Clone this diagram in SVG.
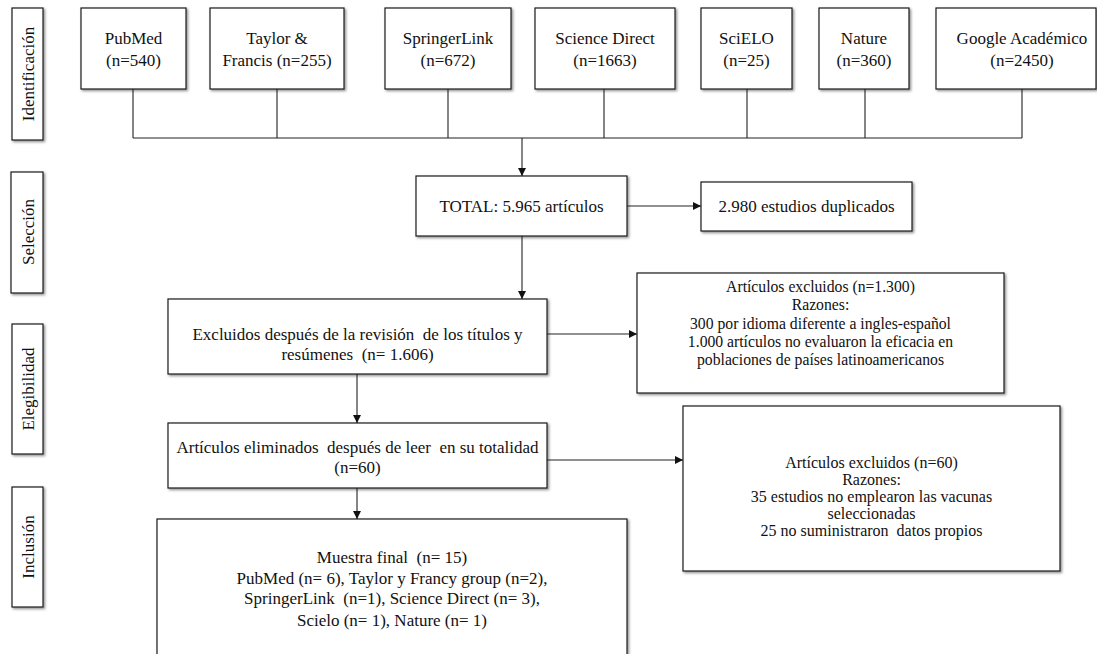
<svg xmlns="http://www.w3.org/2000/svg" width="1097" height="654" viewBox="0 0 1097 654">
<style>
.box{fill:#fff;stroke:#1a1a1a;stroke-width:1.2;filter:url(#sh)}
text{font-family:'Liberation Serif','Times New Roman','DejaVu Serif',serif}
.t{font-size:17px;fill:#111;text-anchor:middle}
.s{font-size:15.7px}
.m{font-size:16px}
.c{fill:none;stroke:#222;stroke-width:1.1}
.a{marker-end:url(#ah)}
</style>
<defs>
<filter id="sh" x="-10%" y="-10%" width="130%" height="130%">
<feDropShadow dx="1.5" dy="1.5" stdDeviation="0.8" flood-color="#444" flood-opacity="0.6"/>
</filter>
<marker id="ah" viewBox="0 0 10 10" refX="10" refY="5" markerWidth="8" markerHeight="8" markerUnits="userSpaceOnUse" orient="auto">
<path d="M0,0 L10,5 L0,10 z" fill="#111"/>
</marker>
</defs>
<g font-family="Liberation Serif, Times New Roman, serif">
<g id="stage-identificacion"><rect class="box" x="12" y="8" width="31" height="132"/><text class="t" x="34" y="74" transform="rotate(-90 34 74)">Identificación</text></g>
<g id="stage-seleccion"><rect class="box" x="11" y="172" width="32" height="121"/><text class="t" x="34" y="232" transform="rotate(-90 34 232)">Selección</text></g>
<g id="stage-elegibilidad"><rect class="box" x="12" y="324" width="31" height="130"/><text class="t" x="34" y="389" transform="rotate(-90 34 389)">Elegibilidad</text></g>
<g id="stage-inclusion"><rect class="box" x="12" y="487" width="31" height="120"/><text class="t" x="34" y="547" transform="rotate(-90 34 547)">Inclusión</text></g>

<g id="pubmed"><rect class="box" x="81" y="8" width="105" height="81"/><text class="t" x="133.5" y="44">PubMed</text><text class="t" x="133.5" y="66">(n=540)</text></g>
<g id="taylor"><rect class="box" x="210" y="8" width="134" height="81"/><text class="t" x="277" y="44">Taylor &amp;</text><text class="t" x="277" y="66">Francis (n=255)</text></g>
<g id="springer"><rect class="box" x="385" y="8" width="126" height="81"/><text class="t" x="448" y="44">SpringerLink</text><text class="t" x="448" y="66">(n=672)</text></g>
<g id="sciencedirect"><rect class="box" x="535" y="8" width="140" height="81"/><text class="t" x="605" y="44">Science Direct</text><text class="t" x="605" y="66">(n=1663)</text></g>
<g id="scielo"><rect class="box" x="701" y="8" width="91" height="81"/><text class="t" x="746.5" y="44">SciELO</text><text class="t" x="746.5" y="66">(n=25)</text></g>
<g id="nature"><rect class="box" x="819" y="8" width="90" height="81"/><text class="t" x="864" y="44">Nature</text><text class="t" x="864" y="66">(n=360)</text></g>
<g id="google"><rect class="box" x="936" y="8" width="160" height="81"/><text class="t" x="1022" y="44">Google Académico</text><text class="t" x="1022" y="66">(n=2450)</text></g>

<g id="total"><rect class="box" x="416" y="176" width="211" height="60"/><text class="t" x="521.5" y="212">TOTAL: 5.965 artículos</text></g>
<g id="duplicados"><rect class="box" x="701" y="182" width="211" height="49"/><text class="t" x="806.5" y="212">2.980 estudios duplicados</text></g>
<g id="excluidos"><rect class="box" x="168" y="299" width="379" height="75"/><text class="t" x="357.5" y="340" xml:space="preserve">Excluidos después de la revisión  de los títulos y</text><text class="t" x="357.5" y="360" xml:space="preserve">resúmenes  (n= 1.606)</text></g>
<g id="excl1"><rect class="box" x="637" y="273" width="367" height="120"/>
<text class="t s" x="820.5" y="292">Artículos excluidos (n=1.300)</text>
<text class="t s" x="820.5" y="310">Razones:</text>
<text class="t s" x="820.5" y="329">300 por idioma diferente a ingles-español</text>
<text class="t s" x="820.5" y="347">1.000 artículos no evaluaron la eficacia en</text>
<text class="t s" x="820.5" y="365">poblaciones de países latinoamericanos</text></g>
<g id="eliminados"><rect class="box" x="168" y="423" width="379" height="65"/><text class="t" x="357.5" y="453" xml:space="preserve">Artículos eliminados  después de leer  en su totalidad</text><text class="t" x="357.5" y="473">(n=60)</text></g>
<g id="excl2"><rect class="box" x="683" y="406" width="377" height="165"/>
<text class="t m" x="871.5" y="468">Artículos excluidos (n=60)</text>
<text class="t m" x="871.5" y="485">Razones:</text>
<text class="t m" x="871.5" y="502">35 estudios no emplearon las vacunas</text>
<text class="t m" x="871.5" y="519">seleccionadas</text>
<text class="t m" x="871.5" y="536" xml:space="preserve">25 no suministraron  datos propios</text></g>
<g id="muestra"><rect class="box" x="157" y="519" width="470" height="150"/>
<text class="t" x="392" y="563" xml:space="preserve">Muestra final  (n= 15)</text>
<text class="t" x="392" y="584">PubMed (n= 6), Taylor y Francy group (n=2),</text>
<text class="t" x="392" y="604" xml:space="preserve">SpringerLink  (n=1), Science Direct (n= 3),</text>
<text class="t" x="392" y="626">Scielo (n= 1), Nature (n= 1)</text></g>
</g>
<g id="connectors">
<path class="c" d="M133,89 V138 M277,89 V138 M448,89 V138 M604,89 V138 M747,89 V138 M865,89 V138 M1022,89 V138 M133,138 H1022"/>
<path class="c a" d="M522,138 V176"/>
<path class="c a" d="M627,206 H701"/>
<path class="c a" d="M522,236 V299"/>
<path class="c a" d="M547,334 H637"/>
<path class="c a" d="M357,374 V423"/>
<path class="c a" d="M547,460 H683"/>
<path class="c a" d="M357,488 V519"/>
</g>
</svg>
